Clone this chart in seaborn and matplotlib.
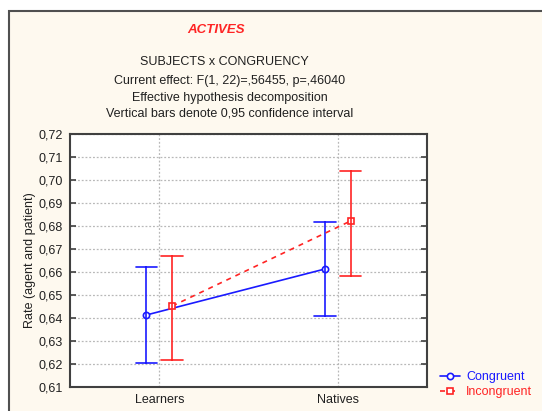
import numpy as np
import pandas as pd
import matplotlib
matplotlib.use("Agg")
import matplotlib.pyplot as plt
from matplotlib.patches import Rectangle
from matplotlib.ticker import FuncFormatter
import seaborn as sns

# Cell means and 0.95 confidence limits
subjects = ["Learners", "Natives"]
conditions = ["Congruent", "Incongruent"]
congruent_mean = [0.6413, 0.6613]
congruent_lo = [0.6203, 0.6409]
congruent_hi = [0.6620, 0.6819]
incongruent_mean = [0.6452, 0.6822]
incongruent_lo = [0.6217, 0.6583]
incongruent_hi = [0.6671, 0.7041]
yticks = [0.61, 0.62, 0.63, 0.64, 0.65, 0.66, 0.67, 0.68, 0.69, 0.70, 0.71, 0.72]

# Long table: lower limit, mean and upper limit per cell, so that the
# median is the mean and the full percentile interval is the CI
rows = []
for cond, m, lo, hi in [("Congruent", congruent_mean, congruent_lo, congruent_hi),
                        ("Incongruent", incongruent_mean, incongruent_lo, incongruent_hi)]:
    for i, s in enumerate(subjects):
        for v in (lo[i], m[i], hi[i]):
            rows.append({"SUBJECTS": s, "CONGRUENCY": cond, "Rate": v})
df = pd.DataFrame(rows)

sns.set_style("white")
plt.rcParams["font.family"] = ["Liberation Sans", "DejaVu Sans"]

BLUE = "#1a1aff"
RED = "#ff2424"
CREAM = "#fef9ef"
FS = 9

fig = plt.figure(figsize=(5.42, 4.11), dpi=100)
fig.patch.set_facecolor("white")
# Outer panel with a dark frame, behind everything
frame = Rectangle((9 / 542, -0.05), 1.1, 1 - 11 / 411 + 0.05,
                  transform=fig.transFigure, facecolor=CREAM,
                  edgecolor="#505050", linewidth=1.5, zorder=-10)
fig.add_artist(frame)

ax = fig.add_axes([70 / 542, 1 - 387 / 411, 357 / 542, 253 / 411])
ax.set_zorder(1)
ax.set_facecolor("white")

sns.pointplot(data=df, x="SUBJECTS", y="Rate", hue="CONGRUENCY",
              hue_order=conditions, order=subjects,
              estimator="median", errorbar=("pi", 100),
              palette=[BLUE, RED], markers=["o", "s"], linestyles=["-", (0, (3, 3))],
              dodge=0.145, capsize=0.12,
              err_kws={"linewidth": 1.2},
              markersize=4.5, markerfacecolor="white", markeredgewidth=1.2,
              linewidth=1.2, ax=ax, legend=True)

ax.set_xlim(-0.5, 1.5)
ax.set_ylim(0.61, 0.72)
ax.set_yticks(yticks)
ax.yaxis.set_major_formatter(FuncFormatter(lambda v, p: f"{v:.2f}".replace(".", ",")))
ax.grid(True, linestyle=(0, (1.5, 1.5)), color="#b8b8b8", linewidth=0.9)
ax.set_axisbelow(True)
for sp in ax.spines.values():
    sp.set_color("#404040")
    sp.set_linewidth(1.5)
ax.tick_params(axis="both", direction="in", length=4, width=1.2, color="#404040",
               labelsize=FS, labelcolor="#202020", pad=5)
ax.tick_params(axis="y", right=True, left=True)
ax.set_xlabel("")
ax.set_ylabel("Rate (agent and patient)", fontsize=FS, color="#202020", labelpad=2)

# Legend outside on the right
handles, labels = ax.get_legend_handles_labels()
leg = ax.legend(handles, labels, loc="center left", bbox_to_anchor=(1.018, 0.01),
                frameon=False, fontsize=FS, handlelength=1.6, handletextpad=0.5,
                labelspacing=0.25, borderpad=0)
for t, c in zip(leg.get_texts(), [BLUE, RED]):
    t.set_color(c)

cx = 230 / 542
fig.text(216 / 542, 1 - 30 / 411, "ACTIVES", color=RED, fontsize=9.5,
         fontweight="bold", fontstyle="italic", ha="center", va="center")
fig.text(224 / 542, 1 - 62 / 411, "SUBJECTS x CONGRUENCY", fontsize=FS,
         color="#202020", ha="center", va="center")
fig.text(cx, 1 - 81 / 411, "Current effect: F(1, 22)=,56455, p=,46040", fontsize=FS,
         color="#202020", ha="center", va="center")
fig.text(cx, 1 - 98 / 411, "Effective hypothesis decomposition", fontsize=FS,
         color="#202020", ha="center", va="center")
fig.text(cx, 1 - 114 / 411, "Vertical bars denote 0,95 confidence interval", fontsize=FS,
         color="#202020", ha="center", va="center")

fig.savefig("out.png", dpi=100, facecolor=fig.get_facecolor())
